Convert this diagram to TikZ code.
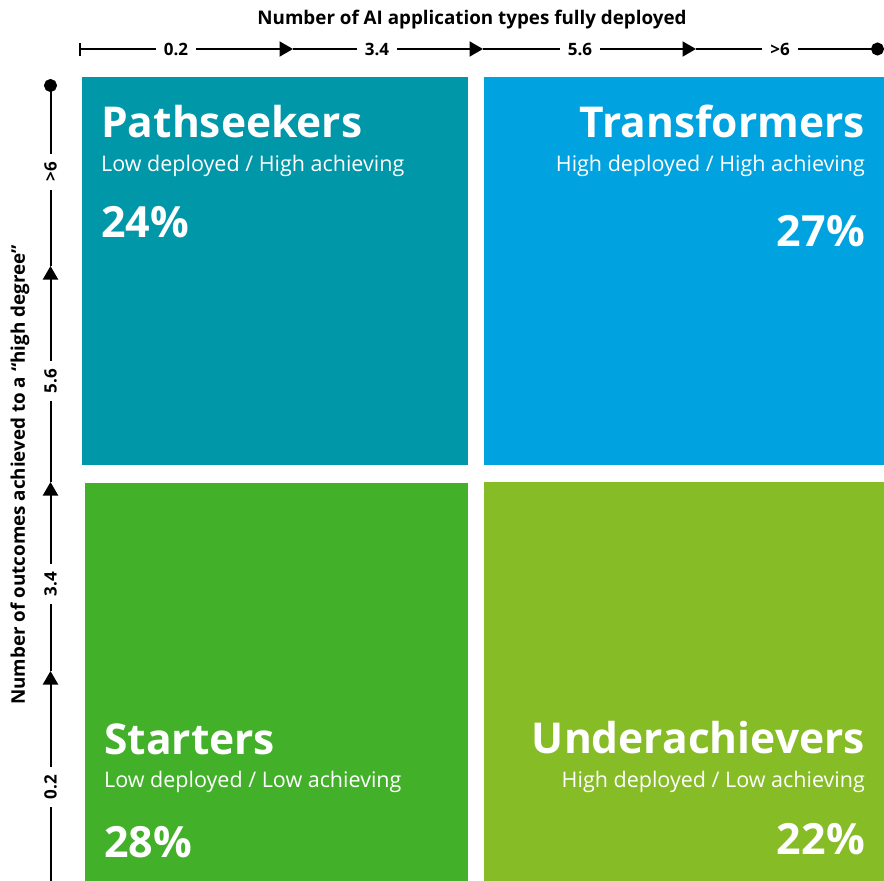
\documentclass[tikz,border=0pt]{standalone}
\usepackage{fontspec}
\setmainfont{Open Sans}
\usetikzlibrary{arrows.meta}

\definecolor{pathteal}{HTML}{0097A9}
\definecolor{transblue}{HTML}{00A3E0}
\definecolor{startgreen}{HTML}{43B02A}
\definecolor{underlime}{HTML}{86BC25}

\begin{document}
\begin{tikzpicture}
  [x=1pt,y=-1pt,every node/.style={inner sep=0pt},
   quadname/.style={text=white,font=\fontsize{42.5}{42.5}\selectfont\bfseries},
   quadsub/.style={text=white,font=\fontsize{21.5}{21.5}\selectfont},
   quadpct/.style={text=white,font=\fontsize{43}{43}\selectfont\bfseries},
   axistitle/.style={font=\fontsize{18.8}{18.8}\selectfont\bfseries},
   axislabel/.style={font=\fontsize{17}{17}\selectfont\bfseries,inner xsep=8pt},
   axisline/.style={line width=2pt},
   uptip/.style={-{Triangle[length=13.5pt,width=15pt]}}]
  \useasboundingbox (0,0) rectangle (884,881);

  % the four quadrants
  \fill[pathteal] (82,77) rectangle (468,465);
  \fill[transblue] (484,77) rectangle (884,465);
  \fill[startgreen] (85,483) rectangle (468,881);
  \fill[underlime] (484,482) rectangle (884,881);

  \node[quadname,anchor=base west] (pname) at (101,137) {Pathseekers};
  \node[quadsub,anchor=base west] (psub) at (101,171) {Low deployed / High achieving};
  \node[quadpct,anchor=base west] (ppct) at (101,237) {24\%};

  \node[quadname,anchor=base east] (tname) at (865,137) {Transformers};
  \node[quadsub,anchor=base east] (tsub) at (865,171) {High deployed / High achieving};
  \node[quadpct,anchor=base east] (tpct) at (865,246) {27\%};

  \node[quadname,anchor=base west] (sname) at (104,754) {Starters};
  \node[quadsub,anchor=base west] (ssub) at (104,787) {Low deployed / Low achieving};
  \node[quadpct,anchor=base west] (spct) at (104,857) {28\%};

  \node[quadname,anchor=base east] (uname) at (865,753) {Underachievers};
  \node[quadsub,anchor=base east] (usub) at (865,787) {High deployed / Low achieving};
  \node[quadpct,anchor=base east] (upct) at (865,854) {22\%};

  % horizontal axis
  \node[axistitle] (xtitle) at (472,20) {Number of AI application types fully deployed};
  \coordinate (xstart) at (79,49);
  \node[axislabel] (x1) at (176,49) {0.2};
  \coordinate (xa1) at (293,49);
  \node[axislabel] (x2) at (377,49) {3.4};
  \coordinate (xa2) at (483,49);
  \node[axislabel] (x3) at (580,49) {5.6};
  \coordinate (xa3) at (696,49);
  \node[axislabel] (x4) at (780,49) {>6};
  \coordinate (xend) at (884,49);

  \draw[axisline,{Bar[width=13pt]}-] (xstart) -- (x1);
  \foreach \from/\tip/\to in {x1/xa1/x2,x2/xa2/x3,x3/xa3/x4}
    \draw[axisline] (\from) edge[uptip] (\tip) (\tip) -- (\to);
  \draw[axisline,-{Circle[length=13pt]}] (x4) -- (xend);

  % vertical axis
  \node[axistitle,rotate=90] (ytitle) at (20,475) {Number of outcomes achieved to a “high degree”};
  \coordinate (ystart) at (50.5,881);
  \node[axislabel,rotate=90] (y1) at (50.5,787) {0.2};
  \coordinate (ya1) at (50.5,671);
  \node[axislabel,rotate=90] (y2) at (50.5,584) {3.4};
  \coordinate (ya2) at (50.5,482);
  \node[axislabel,rotate=90] (y3) at (50.5,381) {5.6};
  \coordinate (ya3) at (50.5,266);
  \node[axislabel,rotate=90] (y4) at (50.5,172) {>6};
  \coordinate (yend) at (50.5,79);

  \draw[axisline] (ystart) -- (y1);
  \foreach \from/\tip/\to in {y1/ya1/y2,y2/ya2/y3,y3/ya3/y4}
    \draw[axisline] (\from) edge[uptip] (\tip) (\tip) -- (\to);
  \draw[axisline,-{Circle[length=13pt]}] (y4) -- (yend);
\end{tikzpicture}
\end{document}
